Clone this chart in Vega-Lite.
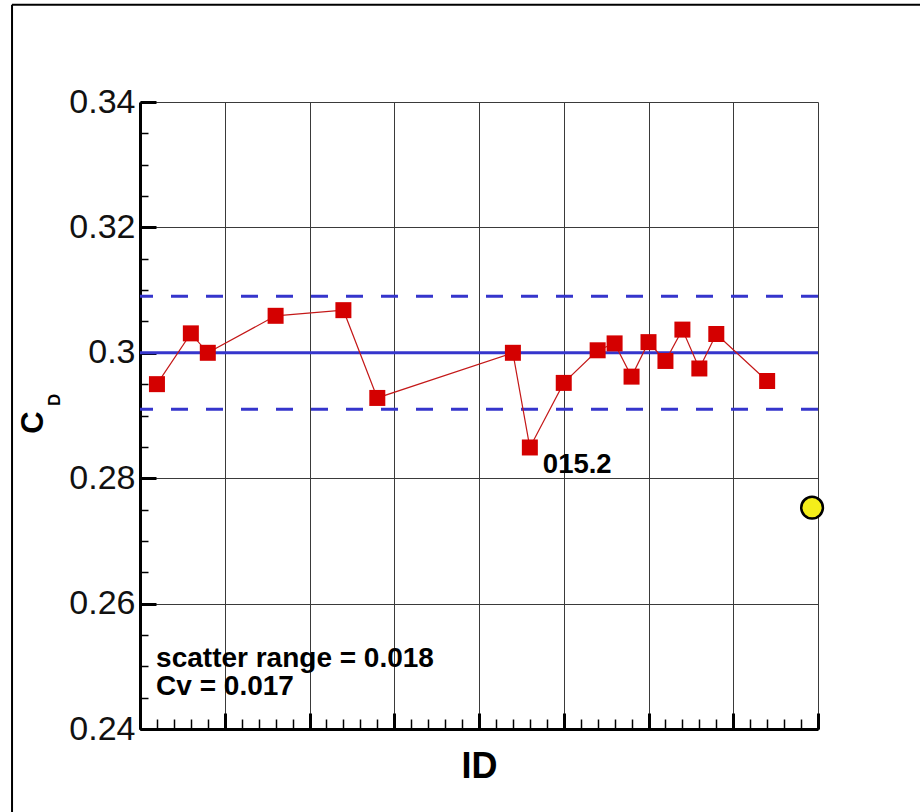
{
  "$schema": "https://vega.github.io/schema/vega-lite/v6.json",
  "width": 678,
  "height": 627,
  "autosize": {"type": "none"},
  "padding": {"left": 140, "top": 102, "right": 102, "bottom": 83},
  "background": "white",
  "config": {"view": {"stroke": null}, "font": "Liberation Sans"},
  "datasets": {
    "runs": [
      {"id": 1, "cd": 0.2950},
      {"id": 3, "cd": 0.3031},
      {"id": 4, "cd": 0.3000},
      {"id": 8, "cd": 0.3059},
      {"id": 12, "cd": 0.3068},
      {"id": 14, "cd": 0.2928},
      {"id": 22, "cd": 0.3000},
      {"id": 23, "cd": 0.2849},
      {"id": 25, "cd": 0.2952},
      {"id": 27, "cd": 0.3004},
      {"id": 28, "cd": 0.3015},
      {"id": 29, "cd": 0.2962},
      {"id": 30, "cd": 0.3017},
      {"id": 31, "cd": 0.2987},
      {"id": 32, "cd": 0.3037},
      {"id": 33, "cd": 0.2975},
      {"id": 34, "cd": 0.3030},
      {"id": 37, "cd": 0.2955}
    ],
    "ref": [{"id": 39.65, "cd": 0.2753}],
    "one": [{}]
  },
  "layer": [
    {
      "data": {"name": "one"},
      "mark": {"type": "rule", "color": "black", "strokeWidth": 2},
      "encoding": {
        "x": {"datum": -7.55, "type": "quantitative", "scale": {"domain": [0, 40], "nice": false, "zero": false}, "axis": null},
        "x2": {"datum": 46.2},
        "y": {"datum": 0.3555, "type": "quantitative", "scale": {"domain": [0.24, 0.34], "nice": false, "zero": false}, "axis": null}
      }
    },
    {
      "data": {"name": "one"},
      "mark": {"type": "rule", "color": "black", "strokeWidth": 2},
      "encoding": {
        "x": {"datum": -7.55, "type": "quantitative", "scale": {"domain": [0, 40], "nice": false, "zero": false}, "axis": null},
        "y": {"datum": 0.3555, "type": "quantitative", "scale": {"domain": [0.24, 0.34], "nice": false, "zero": false}, "axis": null},
        "y2": {"datum": 0.2260}
      }
    },
    {
      "data": {"name": "one"},
      "mark": {"type": "rule", "color": "#3535cc", "strokeWidth": 3},
      "encoding": {
        "y": {"datum": 0.300, "type": "quantitative", "scale": {"domain": [0.24, 0.34], "nice": false, "zero": false}, "axis": null}
      }
    },
    {
      "data": {"name": "one"},
      "mark": {"type": "rule", "color": "#3535cc", "strokeWidth": 3, "strokeDash": [17, 18]},
      "encoding": {
        "y": {"datum": 0.309, "type": "quantitative", "scale": {"domain": [0.24, 0.34], "nice": false, "zero": false}, "axis": null}
      }
    },
    {
      "data": {"name": "one"},
      "mark": {"type": "rule", "color": "#3535cc", "strokeWidth": 3, "strokeDash": [17, 18]},
      "encoding": {
        "y": {"datum": 0.291, "type": "quantitative", "scale": {"domain": [0.24, 0.34], "nice": false, "zero": false}, "axis": null}
      }
    },
    {
      "data": {"name": "runs"},
      "mark": {"type": "line", "color": "#c41818", "strokeWidth": 1.2},
      "encoding": {
        "x": {
          "field": "id", "type": "quantitative",
          "scale": {"domain": [0, 40], "nice": false, "zero": false},
          "axis": {
            "orient": "bottom",
            "values": [0, 5, 10, 15, 20, 25, 30, 35, 40],
            "labels": false,
            "ticks": true, "tickSize": -16, "tickWidth": 3, "tickColor": "black",
            "domain": true, "domainWidth": 3, "domainColor": "black",
            "grid": true, "gridColor": "#3a3a3a", "gridWidth": 1,
            "title": "ID", "titleFont": "Liberation Sans", "titleFontSize": 36, "titleFontWeight": "bold", "titleColor": "black", "titlePadding": 19
          }
        },
        "y": {
          "field": "cd", "type": "quantitative",
          "scale": {"domain": [0.24, 0.34], "nice": false, "zero": false},
          "axis": {
            "orient": "left",
            "values": [0.24, 0.26, 0.28, 0.30, 0.32, 0.34],
            "format": ".2~f",
            "labelFont": "Liberation Sans", "labelFontSize": 34, "labelColor": "#111", "labelPadding": 21,
            "ticks": true, "tickSize": -16, "tickWidth": 3, "tickColor": "black",
            "domain": true, "domainWidth": 3, "domainColor": "black",
            "grid": true, "gridColor": "#3a3a3a", "gridWidth": 1,
            "title": "C", "titleFont": "Liberation Sans", "titleFontSize": 31, "titleFontWeight": "bold", "titleColor": "black",
            "titleAngle": 270, "titleAlign": "center", "titleBaseline": "middle", "titleX": -107, "titleY": 320
          }
        }
      }
    },
    {
      "data": {"name": "runs"},
      "mark": {"type": "point", "shape": "square", "filled": true, "size": 256, "color": "#d40000", "opacity": 1},
      "encoding": {
        "x": {
          "field": "id", "type": "quantitative",
          "scale": {"domain": [0, 40], "nice": false, "zero": false},
          "axis": {
            "orient": "bottom",
            "values": [0,1,2,3,4,5,6,7,8,9,10,11,12,13,14,15,16,17,18,19,20,21,22,23,24,25,26,27,28,29,30,31,32,33,34,35,36,37,38,39,40],
            "labels": false,
            "ticks": true, "tickSize": -10, "tickWidth": 1.5, "tickColor": "black",
            "domain": false, "grid": false, "title": null
          }
        },
        "y": {
          "field": "cd", "type": "quantitative",
          "scale": {"domain": [0.24, 0.34], "nice": false, "zero": false},
          "axis": {
            "orient": "left",
            "values": [0.24,0.245,0.25,0.255,0.26,0.265,0.27,0.275,0.28,0.285,0.29,0.295,0.3,0.305,0.31,0.315,0.32,0.325,0.33,0.335,0.34],
            "labels": false,
            "ticks": true, "tickSize": -8, "tickWidth": 1.5, "tickColor": "black",
            "domain": false, "grid": false, "title": null
          }
        }
      }
    },
    {
      "data": {"name": "ref"},
      "mark": {"type": "point", "shape": "circle", "filled": true, "size": 470, "color": "#f4ee1a", "stroke": "black", "strokeWidth": 2.5, "opacity": 1},
      "encoding": {
        "x": {"field": "id", "type": "quantitative", "scale": {"domain": [0, 40], "nice": false, "zero": false}, "axis": null},
        "y": {"field": "cd", "type": "quantitative", "scale": {"domain": [0.24, 0.34], "nice": false, "zero": false}, "axis": null}
      }
    },
    {
      "data": {"name": "one"},
      "mark": {"type": "text", "text": "015.2", "font": "Liberation Sans", "fontSize": 27.5, "fontWeight": "bold", "color": "black", "align": "left", "baseline": "alphabetic", "dx": 13, "dy": 26},
      "encoding": {
        "x": {"datum": 23, "type": "quantitative", "scale": {"domain": [0, 40], "nice": false, "zero": false}, "axis": null},
        "y": {"datum": 0.2849, "type": "quantitative", "scale": {"domain": [0.24, 0.34], "nice": false, "zero": false}, "axis": null}
      }
    },
    {
      "data": {"name": "one"},
      "mark": {"type": "text", "text": "scatter range = 0.018", "font": "Liberation Sans", "fontSize": 28, "fontWeight": "bold", "color": "black", "align": "left", "baseline": "alphabetic"},
      "encoding": {
        "x": {"datum": 0.95, "type": "quantitative", "scale": {"domain": [0, 40], "nice": false, "zero": false}, "axis": null},
        "y": {"datum": 0.2499, "type": "quantitative", "scale": {"domain": [0.24, 0.34], "nice": false, "zero": false}, "axis": null}
      }
    },
    {
      "data": {"name": "one"},
      "mark": {"type": "text", "text": "Cv = 0.017", "font": "Liberation Sans", "fontSize": 28, "fontWeight": "bold", "color": "black", "align": "left", "baseline": "alphabetic"},
      "encoding": {
        "x": {"datum": 0.95, "type": "quantitative", "scale": {"domain": [0, 40], "nice": false, "zero": false}, "axis": null},
        "y": {"datum": 0.24535, "type": "quantitative", "scale": {"domain": [0.24, 0.34], "nice": false, "zero": false}, "axis": null}
      }
    },
    {
      "data": {"name": "one"},
      "mark": {"type": "text", "text": "D", "font": "Liberation Sans", "fontSize": 17, "fontWeight": "bold", "color": "black", "align": "center", "baseline": "middle", "angle": 270},
      "encoding": {
        "x": {"datum": -5.0, "type": "quantitative", "scale": {"domain": [0, 40], "nice": false, "zero": false}, "axis": null},
        "y": {"datum": 0.2925, "type": "quantitative", "scale": {"domain": [0.24, 0.34], "nice": false, "zero": false}, "axis": null}
      }
    }
  ],
  "resolve": {"axis": {"x": "independent", "y": "independent"}}
}
